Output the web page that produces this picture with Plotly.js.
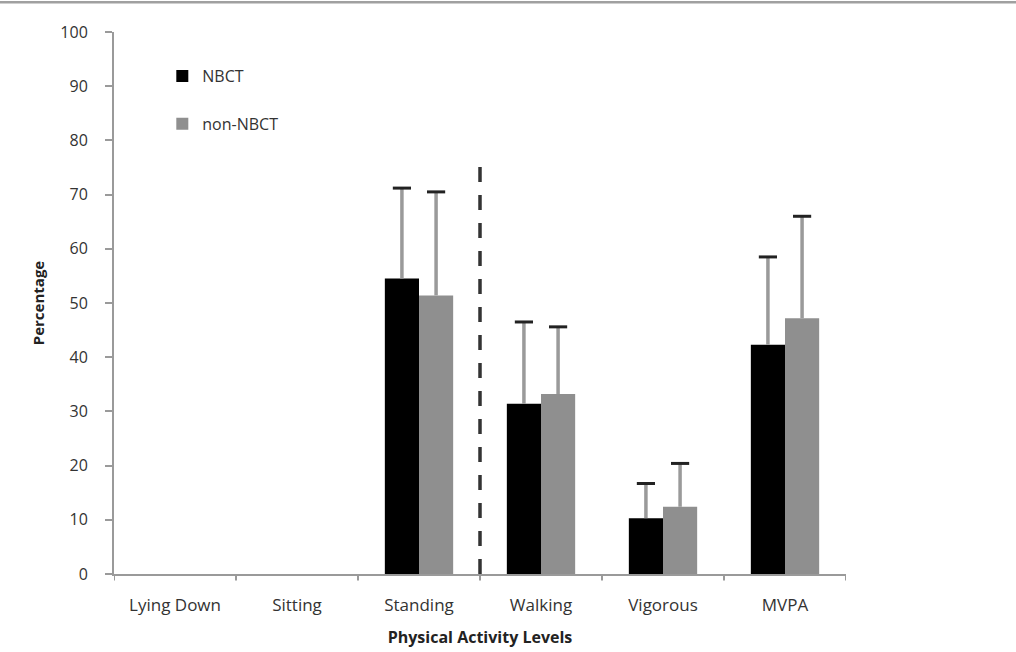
<!DOCTYPE html>
<html>
<head>
<meta charset="utf-8">
<script src="https://cdn.plot.ly/plotly-3.0.1.min.js"></script>
<style>html,body{margin:0;padding:0;background:#fff}#chart{width:1016px;height:652px}</style>
</head>
<body>
<div id="chart"></div>
<script>
const categories = ['Lying Down', 'Sitting', 'Standing', 'Walking', 'Vigorous', 'MVPA'];
const seriesNames = ['NBCT', 'non-NBCT'];
const nbct = [null, null, 54.5, 31.4, 10.3, 42.3];
const nbctErr = [null, null, 16.7, 15.1, 6.4, 16.2];
const nonNbct = [null, null, 51.4, 33.2, 12.4, 47.2];
const nonNbctErr = [null, null, 19.1, 12.4, 8.0, 18.8];
const yTicks = [0, 10, 20, 30, 40, 50, 60, 70, 80, 90, 100];
const dividerAt = 2.5;   // between Standing and Walking
const dividerTop = 75.5;

const idx = categories.map((_, i) => i);
const barW = 0.28;
const font = 'Open Sans, Noto Sans, sans-serif';

function barTrace(name, y, err, color, offset, group) {
  return {
    type: 'bar', name: name, x: idx, y: y,
    width: barW, offset: offset,
    marker: {color: color, line: {width: 0}},
    legendgroup: group,
    error_y: {type: 'data', symmetric: false, array: err, arrayminus: err.map(e => 0),
              color: '#9a9a9a', thickness: 3.5, width: 0},
    hoverinfo: 'skip'
  };
}
function capTrace(y, err, xShift) {
  return {
    type: 'scatter', mode: 'markers', showlegend: false, hoverinfo: 'skip',
    x: idx.map(i => i + xShift),
    y: y.map((v, i) => v == null ? null : v + err[i]),
    marker: {symbol: 'line-ew', size: 13, color: '#222', line: {width: 3, color: '#222'}}
  };
}

const data = [
  barTrace(seriesNames[0], nbct, nbctErr, '#000000', -barW, 'a'),
  barTrace(seriesNames[1], nonNbct, nonNbctErr, '#8f8f8f', 0, 'b'),
  capTrace(nbct, nbctErr, -barW / 2),
  capTrace(nonNbct, nonNbctErr, barW / 2)
];

const boundaryTicks = categories.map((_, i) => ({
  type: 'line', xref: 'x', yref: 'paper', x0: i - 0.5, x1: i - 0.5, y0: 0, y1: -0.012,
  line: {color: '#9a9a9a', width: 2}
}));
boundaryTicks.push({
  type: 'line', xref: 'x', yref: 'paper', x0: categories.length - 0.5, x1: categories.length - 0.5, y0: 0, y1: -0.012,
  line: {color: '#9a9a9a', width: 2}
});

const layout = {
  width: 1016, height: 652,
  margin: {l: 114, r: 170, t: 32, b: 78},
  paper_bgcolor: '#ffffff', plot_bgcolor: '#ffffff',
  font: {family: font, size: 16, color: '#333333'},
  barmode: 'overlay',
  showlegend: true,
  legend: {x: 0.066, y: 0.95, xanchor: 'left', yanchor: 'top', bgcolor: 'rgba(0,0,0,0)',
           font: {family: font, size: 16, color: '#333'}, traceorder: 'grouped', tracegroupgap: 24,
           itemwidth: 30},
  xaxis: {
    type: 'linear', range: [-0.5, categories.length - 0.5],
    tickvals: idx, ticktext: categories, ticks: '', ticklabelstandoff: 15,
    showline: true, linecolor: '#9a9a9a', linewidth: 2, showgrid: false, zeroline: false,
    tickfont: {family: font, size: 17, color: '#333'},
    title: {text: '<b>Physical Activity Levels</b>', font: {family: font, size: 16, color: '#222'}, standoff: 16}
  },
  yaxis: {
    range: [0, 100], tickvals: yTicks, ticks: 'outside', ticklen: 7, tickwidth: 2, tickcolor: '#9a9a9a',
    ticklabelstandoff: 14,
    showline: true, linecolor: '#9a9a9a', linewidth: 2, showgrid: false, zeroline: false,
    tickfont: {family: font, size: 16, color: '#333'},
    title: {text: '<b>Percentage</b>', font: {family: font, size: 15, color: '#222'}, standoff: 12}
  },
  shapes: [
    {type: 'line', xref: 'x', yref: 'y', x0: dividerAt, x1: dividerAt, y0: 0, y1: dividerTop,
     line: {color: '#333333', width: 3.5, dash: '15px,13px'}},
    {type: 'line', xref: 'paper', yref: 'paper', x0: -0.2, x1: 1.3, y0: 1.055, y1: 1.055,
     line: {color: '#a0a0a0', width: 2.5}}
  ].concat(boundaryTicks)
};

Plotly.newPlot('chart', data, layout, {staticPlot: true, displayModeBar: false});
</script>
</body>
</html>
